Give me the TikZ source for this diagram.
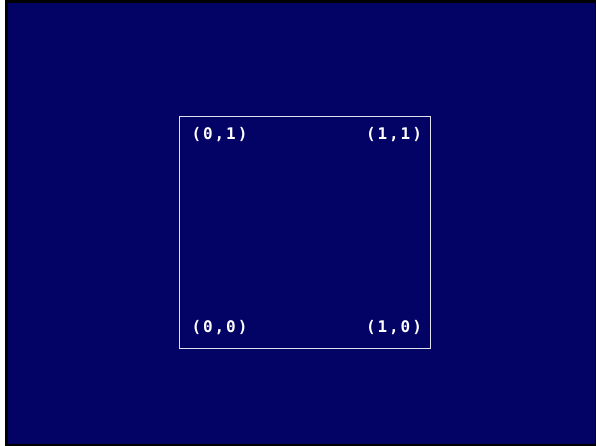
\documentclass[tikz,border=0pt]{standalone}
\usepackage{fontspec}
\usepackage{tikz}
\newfontfamily\cornerfont[LetterSpace=12]{DejaVu Sans Mono Bold}
\definecolor{slidebg}{RGB}{3,3,102}
\definecolor{framegray}{RGB}{225,225,235}

\begin{document}
\begin{tikzpicture}[x=1pt,y=-1pt,
		corner/.style={text=white,font=\cornerfont\fontsize{16}{19}\selectfont,inner sep=0pt}]
			\useasboundingbox (0,0) rectangle (596,446);
			\fill[white] (0,0) rectangle (596,446);
			\fill[black] (5,0) rectangle (596,446);
			\fill[slidebg] (8,3) rectangle (595,444);
			
			% unit square
			
			\draw[framegray,line width=1pt] (179.5,116.5) rectangle (430.5,348.5);
			
			% corner labels
			
			\foreach \i/\j in {0/0,1/0,0/1,1/1} {
				\pgfmathsetmacro{\px}{219.5 + \i * 174.5}
				\pgfmathsetmacro{\py}{328 - \j * 193}
				\node[corner] (C\i\j) at (\px,\py) {(\i,\j)};
			}
			
		\end{tikzpicture}
\end{document}
